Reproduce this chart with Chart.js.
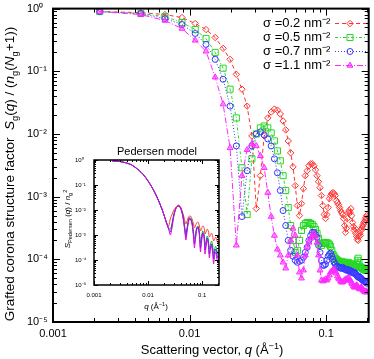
<!DOCTYPE html>
<html>
<head>
<meta charset="utf-8">
<script src="https://cdn.jsdelivr.net/npm/chart.js@4.4.1/dist/chart.umd.min.js"></script>
<style>
  html, body { margin: 0; padding: 0; background: #fff; }
  #wrap { position: relative; width: 374px; height: 359px; }
  #main { position: absolute; left: 0; top: 0; }
  #inset { position: absolute; left: 60px; top: 138px; }
</style>
</head>
<body>
<div id="wrap">
  <canvas id="main" width="374" height="359"></canvas>
  <canvas id="inset" width="166" height="178"></canvas>
</div>
<script>
// scattering vector q (1/Angstrom)
const qValues = [
  0.0022, 0.0044, 0.0066, 0.0088, 0.011, 0.0132, 0.0154, 0.0176, 0.0198, 0.022,
  0.0242, 0.0264, 0.0286, 0.0308, 0.033, 0.0352, 0.0374, 0.0396, 0.0418, 0.044,
  0.0462, 0.0484, 0.0506, 0.0528, 0.055, 0.0572, 0.0594, 0.0616, 0.0638, 0.066,
  0.0682, 0.0704, 0.0726, 0.0748, 0.077, 0.0792, 0.0814, 0.0836, 0.0858, 0.088,
  0.0902, 0.0924, 0.0946, 0.0968, 0.099, 0.1012, 0.1034, 0.1056, 0.1078, 0.11,
  0.1122, 0.1144, 0.1166, 0.1188, 0.121, 0.1232, 0.1254, 0.1276, 0.1298, 0.132,
  0.1342, 0.1364, 0.1386, 0.1408, 0.143, 0.1452, 0.1474, 0.1496, 0.1518, 0.154,
  0.1562, 0.1584, 0.1606, 0.1628, 0.165, 0.1672, 0.1694, 0.1716, 0.1738, 0.176,
  0.1782, 0.1804, 0.1826, 0.1848, 0.187, 0.1892, 0.1914, 0.1936, 0.1958, 0.198
];

const sigmaLabels = ["σ =0.2 nm⁻²", "σ =0.5 nm⁻²", "σ =0.7 nm⁻²", "σ =1.1 nm⁻²"];

const s02 = [
  0.896, 0.864, 0.803, 0.720, 0.578, 0.464, 0.346, 0.232, 0.155, 0.0896,
  0.0518, 0.0278, 0.00929, 6.45e-4, 2.16e-3, 9.29e-3, 0.0180, 0.0224, 0.0249, 0.0240,
  0.0208, 0.0161, 0.0116, 7.74e-3, 4.99e-3, 2.99e-3, 1.50e-3, 7.20e-4, 4.99e-4, 7.74e-4,
  1.34e-3, 2.16e-3, 2.59e-3, 3.11e-3, 3.34e-3, 3.34e-3, 3.11e-3, 2.68e-3, 2.16e-3, 1.73e-3,
  1.39e-3, 1.04e-3, 7.20e-4, 5.18e-4, 4.48e-4, 5.18e-4, 6.69e-4, 9.29e-4, 1.04e-3, 1.12e-3,
  1.16e-3, 1.12e-3, 1.04e-3, 8.65e-4, 8.03e-4, 7.46e-4, 6.69e-4, 6.00e-4, 5.57e-4, 5.18e-4,
  4.48e-4, 3.46e-4, 2.68e-4, 3.11e-4, 4.48e-4, 5.57e-4, 6.00e-4, 5.57e-4, 6.45e-4, 4.99e-4,
  3.87e-4, 3.34e-4, 2.89e-4, 3.11e-4, 2.59e-4, 2.32e-4, 2.08e-4, 2.00e-4, 2.32e-4, 2.59e-4,
  2.40e-4, 2.89e-4, 3.11e-4, 3.34e-4, 3.59e-4, 3.87e-4, 4.01e-4, 4.32e-4, 4.64e-4, 4.99e-4
];

const s05 = [
  0.896, 0.833, 0.746, 0.600, 0.464, 0.334, 0.200, 0.112, 0.0518, 0.0180,
  2.89e-3, 5.18e-4, 4.01e-3, 0.0100, 0.0125, 0.0134, 0.0125, 0.0104, 7.74e-3, 5.37e-3,
  3.73e-3, 2.16e-3, 1.25e-3, 6.69e-4, 3.46e-4, 2.00e-4, 1.29e-4, 1.39e-4, 2.00e-4, 2.89e-4,
  3.46e-4, 3.73e-4, 3.87e-4, 3.87e-4, 3.73e-4, 3.59e-4, 3.34e-4, 2.99e-4, 2.59e-4, 2.16e-4,
  1.80e-4, 1.67e-4, 1.80e-4, 1.86e-4, 1.80e-4, 1.86e-4, 1.80e-4, 1.73e-4, 1.61e-4, 1.39e-4,
  1.20e-4, 1.12e-4, 1.04e-4, 1.00e-4, 9.64e-5, 9.29e-5, 8.96e-5, 8.96e-5, 9.29e-5, 8.96e-5,
  8.65e-5, 8.96e-5, 8.65e-5, 8.33e-5, 8.65e-5, 8.96e-5, 8.33e-5, 8.65e-5, 8.03e-5, 8.33e-5,
  7.74e-5, 8.03e-5, 7.46e-5, 7.74e-5, 7.46e-5, 8.33e-5, 9.64e-5, 1.04e-4, 8.96e-5, 7.74e-5,
  7.46e-5, 7.46e-5, 7.20e-5, 7.20e-5, 6.94e-5, 7.20e-5, 6.94e-5, 6.69e-5, 6.94e-5, 6.69e-5
];

const s07 = [
  0.896, 0.833, 0.694, 0.557, 0.401, 0.268, 0.155, 0.0746, 0.0278, 6.45e-3,
  4.81e-4, 2.59e-3, 6.45e-3, 0.0100, 0.0108, 9.64e-3, 8.33e-3, 6.45e-3, 4.01e-3, 2.40e-3,
  1.25e-3, 6.00e-4, 3.46e-4, 2.00e-4, 1.39e-4, 1.12e-4, 9.64e-5, 8.96e-5, 9.29e-5, 9.64e-5,
  1.08e-4, 1.29e-4, 1.55e-4, 2.00e-4, 2.40e-4, 2.68e-4, 2.68e-4, 2.49e-4, 2.24e-4, 1.67e-4,
  1.29e-4, 9.64e-5, 8.03e-5, 8.03e-5, 8.33e-5, 9.64e-5, 1.12e-4, 1.20e-4, 1.25e-4, 1.12e-4,
  1.00e-4, 8.96e-5, 8.33e-5, 7.74e-5, 7.74e-5, 7.46e-5, 7.46e-5, 7.20e-5, 7.20e-5, 7.46e-5,
  7.20e-5, 6.94e-5, 6.94e-5, 6.69e-5, 6.94e-5, 6.69e-5, 6.45e-5, 6.69e-5, 6.22e-5, 6.45e-5,
  6.22e-5, 6.00e-5, 6.22e-5, 6.00e-5, 5.78e-5, 5.57e-5, 5.37e-5, 5.18e-5, 5.37e-5, 5.18e-5,
  4.99e-5, 4.99e-5, 4.81e-5, 4.64e-5, 4.64e-5, 4.48e-5, 4.48e-5, 4.32e-5, 4.32e-5, 4.16e-5
];

const s11 = [
  0.896, 0.803, 0.645, 0.481, 0.311, 0.208, 0.0803, 0.0299, 6.00e-3, 1.67e-4,
  2.16e-3, 5.57e-3, 6.94e-3, 6.45e-3, 4.48e-3, 2.89e-3, 1.16e-3, 4.81e-4, 2.40e-4, 1.44e-4,
  1.16e-4, 8.96e-5, 7.20e-5, 1.16e-4, 2.00e-4, 3.11e-4, 2.40e-4, 1.16e-4, 6.22e-5, 4.99e-5,
  6.69e-5, 1.16e-4, 1.55e-4, 1.86e-4, 2.16e-4, 2.40e-4, 2.59e-4, 2.32e-4, 1.86e-4, 1.16e-4,
  6.69e-5, 4.64e-5, 4.48e-5, 4.64e-5, 4.81e-5, 4.64e-5, 4.99e-5, 5.57e-5, 6.22e-5, 6.45e-5,
  6.69e-5, 6.94e-5, 6.45e-5, 6.00e-5, 5.37e-5, 4.99e-5, 4.81e-5, 4.48e-5, 4.32e-5, 4.32e-5,
  4.48e-5, 4.64e-5, 4.81e-5, 4.64e-5, 4.99e-5, 4.81e-5, 4.99e-5, 4.64e-5, 4.48e-5, 4.16e-5,
  4.01e-5, 3.73e-5, 3.59e-5, 3.59e-5, 3.73e-5, 3.87e-5, 3.73e-5, 3.59e-5, 3.46e-5, 3.34e-5,
  3.46e-5, 3.59e-5, 3.46e-5, 3.34e-5, 3.22e-5, 3.11e-5, 3.11e-5, 2.99e-5, 3.11e-5, 2.99e-5
];

// inset: Pedersen model
const insetQ = [
  0.0022, 0.003, 0.004, 0.005, 0.006, 0.007, 0.008, 0.009, 0.010, 0.012,
  0.014, 0.016, 0.018, 0.020, 0.022, 0.024, 0.026, 0.028, 0.030, 0.033,
  0.036, 0.039, 0.042, 0.045, 0.048, 0.050, 0.052, 0.055, 0.058, 0.061,
  0.065, 0.069, 0.072, 0.075, 0.079, 0.084, 0.089, 0.093, 0.097, 0.102,
  0.108, 0.113, 0.118, 0.124, 0.130, 0.136, 0.142, 0.149, 0.156, 0.163,
  0.170, 0.178, 0.186, 0.194, 0.200
];

const ped02 = [
  0.912, 0.871, 0.759, 0.631, 0.479, 0.363, 0.275, 0.200, 0.145, 0.0759,
  0.0398, 0.0209, 0.0110, 0.00575, 0.00302, 0.00229, 0.00479, 0.00692, 0.0100, 0.0132,
  0.0158, 0.0145, 0.0100, 0.00631, 0.00363, 0.00275, 0.00331, 0.00479, 0.00575, 0.00575,
  0.00437, 0.00275, 0.00191, 0.00229, 0.00302, 0.00331, 0.00229, 0.00145, 0.00174, 0.00229,
  0.00209, 0.00110, 0.00132, 0.00174, 0.00145, 8.32e-4, 0.00100, 0.00120, 9.12e-4, 5.75e-4,
  6.92e-4, 8.32e-4, 6.31e-4, 4.79e-4, 5.75e-4
];

const ped05 = [
  0.912, 0.871, 0.759, 0.631, 0.479, 0.363, 0.275, 0.200, 0.145, 0.0759,
  0.0398, 0.0209, 0.0110, 0.00575, 0.00302, 0.00191, 0.00174, 0.00331, 0.00692, 0.0120,
  0.0145, 0.0132, 0.00912, 0.00479, 0.00191, 0.00120, 0.00174, 0.00331, 0.00479, 0.00479,
  0.00331, 0.00145, 6.92e-4, 0.00100, 0.00191, 0.00229, 0.00132, 4.79e-4, 7.59e-4, 0.00145,
  0.00120, 3.98e-4, 5.75e-4, 9.12e-4, 6.92e-4, 2.75e-4, 3.98e-4, 5.75e-4, 3.98e-4, 1.74e-4,
  2.75e-4, 3.63e-4, 2.51e-4, 1.74e-4, 2.51e-4
];

const ped07 = [
  0.912, 0.871, 0.759, 0.631, 0.479, 0.363, 0.275, 0.200, 0.145, 0.0759,
  0.0398, 0.0209, 0.0110, 0.00575, 0.00302, 0.00174, 0.00132, 0.00275, 0.00631, 0.0120,
  0.0145, 0.0132, 0.00912, 0.00437, 0.00158, 8.32e-4, 0.00145, 0.00302, 0.00479, 0.00437,
  0.00302, 0.00110, 4.37e-4, 7.59e-4, 0.00174, 0.00209, 0.00110, 3.02e-4, 5.75e-4, 0.00120,
  0.00100, 2.51e-4, 4.37e-4, 7.59e-4, 5.25e-4, 1.74e-4, 3.02e-4, 4.37e-4, 2.75e-4, 1.10e-4,
  2.09e-4, 2.75e-4, 1.74e-4, 1.20e-4, 1.91e-4
];

const ped11 = [
  0.912, 0.871, 0.759, 0.631, 0.479, 0.363, 0.275, 0.200, 0.145, 0.0759,
  0.0398, 0.0209, 0.0110, 0.00575, 0.00302, 0.00174, 0.00100, 0.00229, 0.00575, 0.0120,
  0.0145, 0.0132, 0.00832, 0.00398, 0.00132, 6.31e-4, 0.00110, 0.00275, 0.00437, 0.00437,
  0.00275, 9.12e-4, 3.02e-4, 6.31e-4, 0.00158, 0.00191, 0.00100, 2.09e-4, 4.79e-4, 0.00110,
  9.12e-4, 1.74e-4, 3.31e-4, 6.31e-4, 4.37e-4, 1.20e-4, 2.51e-4, 3.63e-4, 2.09e-4, 6.92e-5,
  1.58e-4, 2.09e-4, 1.20e-4, 8.32e-5, 1.45e-4
];

const xTickValues = [0.001, 0.01, 0.1];
const yTickValues = [1e-5, 1e-4, 1e-3, 1e-2, 1e-1, 1];

const FONT = '"Liberation Sans", Arial, Helvetica, sans-serif';
const colors = ["rgb(255,50,50)", "rgb(40,215,40)", "rgb(55,55,255)", "rgb(255,40,255)"];
const insetColors = ["rgb(255,60,60)", "rgb(30,170,60)", "rgb(40,40,230)", "rgb(225,0,225)"];
const dashes = [[4, 3], [3, 2, 1, 2], [1, 2], [6, 2, 1, 2]];
const markers = ["rectRot", "rect", "circle", "triangle"];
const markerSize = [3.2, 4.3, 3, 3.4];
const markerFill = ["rgba(0,0,0,0)", "rgba(0,0,0,0)", "rgba(0,0,0,0)", "rgba(255,40,255,0.45)"];

const SUP = { "0": "⁰", "1": "¹", "2": "²", "3": "³", "4": "⁴", "5": "⁵", "-": "⁻" };
function powerLabel(v) {
    const e = Math.round(Math.log10(v));
    return "10" + String(e).split("").map(c => SUP[c]).join("");
}

// text with italic / sub / sup pieces, centred on (x, y)
function drawRich(ctx, parts, x, y, size, rotate) {
    ctx.save();
    ctx.translate(x, y);
    if (rotate) ctx.rotate(-Math.PI / 2);
    const fontFor = p => (p.i ? "italic " : "") + (p.s ? size * 0.7 : size) + "px " + FONT;
    let total = 0;
    parts.forEach(p => { ctx.font = fontFor(p); total += ctx.measureText(p.t).width; });
    let cx = -total / 2;
    ctx.fillStyle = "#000";
    ctx.textAlign = "left";
    ctx.textBaseline = "alphabetic";
    parts.forEach(p => {
        ctx.font = fontFor(p);
        const dy = p.s === "sub" ? size * 0.28 : p.s === "sup" ? -size * 0.42 : 0;
        ctx.fillText(p.t, cx, dy);
        cx += ctx.measureText(p.t).width;
    });
    ctx.restore();
}

// border with inward ticks on all four sides
function frameTicks(major, minor, width) {
    return {
        id: "frameTicks",
        afterDatasetsDraw(chart) {
            const { ctx, chartArea: a, scales: { x, y } } = chart;
            ctx.save();
            ctx.setLineDash([]);
            ctx.strokeStyle = "#000";
            ctx.lineWidth = 1;
            ctx.beginPath();
            for (let e = -3; e <= 0; e++) {
                for (let m = 1; m <= 9; m++) {
                    const v = m * Math.pow(10, e);
                    if (v < x.min || v > x.max) continue;
                    const px = Math.round(x.getPixelForValue(v)) + 0.5;
                    const len = m === 1 ? major : minor;
                    ctx.moveTo(px, a.bottom); ctx.lineTo(px, a.bottom - len);
                    ctx.moveTo(px, a.top); ctx.lineTo(px, a.top + len);
                }
            }
            for (let e = -5; e <= 0; e++) {
                for (let m = 1; m <= 9; m++) {
                    const v = m * Math.pow(10, e);
                    if (v < y.min || v > y.max) continue;
                    const py = Math.round(y.getPixelForValue(v)) + 0.5;
                    const len = m === 1 ? major : minor;
                    ctx.moveTo(a.left, py); ctx.lineTo(a.left + len, py);
                    ctx.moveTo(a.right, py); ctx.lineTo(a.right - len, py);
                }
            }
            ctx.stroke();
            ctx.lineWidth = width;
            ctx.strokeRect(a.left, a.top, a.right - a.left, a.bottom - a.top);
            ctx.restore();
        }
    };
}

function logAxes(xMax, fontSize, xPad, yWidth, xHeight) {
    return {
        x: {
            type: "logarithmic", min: 0.001, max: xMax,
            afterBuildTicks: s => { s.ticks = xTickValues.map(v => ({ value: v })); },
            afterFit: s => { s.height = xHeight; },
            grid: { display: false, drawTicks: false }, border: { display: false },
            ticks: {
                autoSkip: false, maxRotation: 0, padding: xPad, color: "#000",
                font: { family: FONT, size: fontSize },
                callback: v => String(v)
            }
        },
        y: {
            type: "logarithmic", min: 1e-5, max: 1,
            afterBuildTicks: s => { s.ticks = yTickValues.map(v => ({ value: v })); },
            afterFit: s => { s.width = yWidth; },
            grid: { display: false, drawTicks: false }, border: { display: false },
            ticks: {
                autoSkip: false, padding: 2, crossAlign: "far", color: "#000",
                font: { family: FONT, size: fontSize },
                callback: v => powerLabel(v)
            }
        }
    };
}

const mainText = {
    id: "mainText",
    afterDraw(chart) {
        const ctx = chart.ctx;
        drawRich(ctx, [
            { t: "Grafted corona structure factor  " }, { t: "S", i: true }, { t: "g", s: "sub" },
            { t: "(" }, { t: "q", i: true }, { t: ") / (" }, { t: "n", i: true }, { t: "g", s: "sub" },
            { t: "(" }, { t: "N", i: true }, { t: "g", s: "sub" }, { t: "+1))" }
        ], 14, 174, 13.5, true);
        drawRich(ctx, [
            { t: "Scattering vector, " }, { t: "q", i: true }, { t: " (Å" }, { t: "−1", s: "sup" }, { t: ")" }
        ], 212, 354, 13, false);

        // legend
        ctx.save();
        sigmaLabels.forEach((label, i) => {
            const y = 23 + i * 14;
            ctx.fillStyle = "#000";
            ctx.font = "13px " + FONT;
            ctx.textAlign = "left";
            ctx.textBaseline = "middle";
            ctx.fillText(label, 263, y);
            ctx.strokeStyle = colors[i];
            ctx.lineWidth = 1;
            ctx.setLineDash(dashes[i]);
            ctx.beginPath();
            ctx.moveTo(335, y + 0.5);
            ctx.lineTo(366, y + 0.5);
            ctx.stroke();
            ctx.setLineDash([]);
            ctx.fillStyle = markerFill[i];
            Chart.helpers.drawPoint(ctx, { pointStyle: markers[i], radius: markerSize[i], rotation: 0, borderWidth: 1 }, 350, y + 0.5);
        });
        ctx.restore();
    }
};

new Chart(document.getElementById("main"), {
    type: "line",
    data: {
        datasets: [s02, s05, s07, s11].map((vals, i) => ({
            label: sigmaLabels[i],
            data: qValues.map((q, j) => ({ x: q, y: vals[j] })),
            order: 3 - i,
            borderColor: colors[i],
            borderWidth: 1,
            borderDash: dashes[i],
            pointStyle: markers[i],
            pointRadius: markerSize[i],
            pointBorderColor: colors[i],
            pointBackgroundColor: markerFill[i],
            pointBorderWidth: 1,
            tension: 0,
            fill: false
        }))
    },
    options: {
        responsive: false,
        animation: false,
        events: [],
        layout: { padding: { left: 27, top: 7, right: 1, bottom: 0 } },
        plugins: { legend: { display: false }, tooltip: { enabled: false } },
        scales: logAxes(0.205, 11, 5, 26, 37)
    },
    plugins: [frameTicks(7, 4, 2), mainText]
});

const insetText = {
    id: "insetText",
    afterDraw(chart) {
        const ctx = chart.ctx;
        ctx.save();
        ctx.fillStyle = "#000";
        ctx.font = "11px " + FONT;
        ctx.textAlign = "center";
        ctx.textBaseline = "alphabetic";
        ctx.fillText("Pedersen model", 97, 17);
        ctx.restore();
        drawRich(ctx, [
            { t: "S", i: true }, { t: "Pedersen", s: "sub" }, { t: " (" }, { t: "q", i: true },
            { t: ") / " }, { t: "n", i: true }, { t: "g", s: "sub" }, { t: "2", s: "sup" }
        ], 10, 81, 8, true);
        drawRich(ctx, [
            { t: "q", i: true }, { t: " (Å" }, { t: "−1", s: "sup" }, { t: ")" }
        ], 96, 171, 8, false);
    }
};

new Chart(document.getElementById("inset"), {
    type: "line",
    data: {
        datasets: [ped02, ped05, ped07, ped11].map((vals, i) => ({
            label: sigmaLabels[i],
            data: insetQ.map((q, j) => ({ x: q, y: vals[j] })),
            order: 3 - i,
            borderColor: insetColors[i],
            borderWidth: 1,
            pointRadius: 0,
            tension: 0.25,
            fill: false
        }))
    },
    options: {
        responsive: false,
        animation: false,
        events: [],
        layout: { padding: { left: 15, top: 22, right: 7, bottom: 0 } },
        plugins: { legend: { display: false }, tooltip: { enabled: false } },
        scales: logAxes(0.205, 6, 7, 19, 31)
    },
    plugins: [frameTicks(4, 2, 1.5), insetText]
});
</script>
</body>
</html>
